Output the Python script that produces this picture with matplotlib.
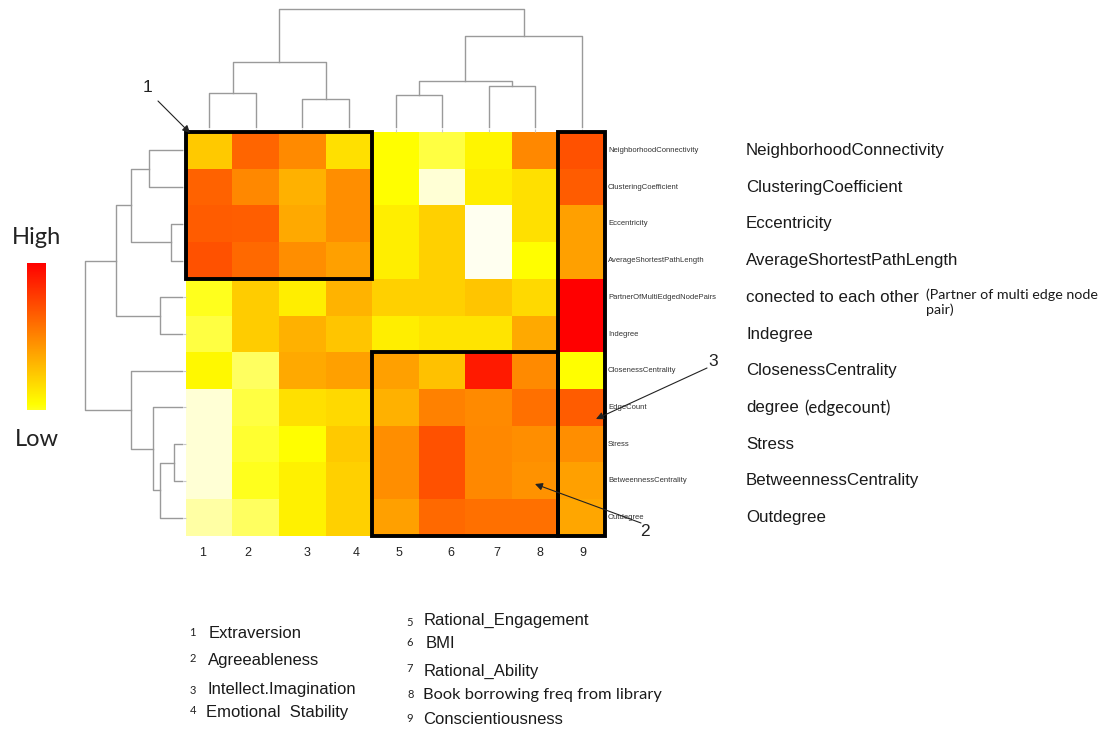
import matplotlib
matplotlib.use("Agg")
import matplotlib.pyplot as plt
import numpy as np
from matplotlib.colors import LinearSegmentedColormap
from matplotlib.patches import Rectangle, FancyArrowPatch
from matplotlib.transforms import blended_transform_factory

# heat values (0 = palest, 100 = red), rows top->bottom, columns 1..9
values = np.array([
    [41, 70, 59, 34, 25, 18, 28, 60, 76],
    [71, 60, 48, 58, 25, 3, 30, 34, 73],
    [73, 72, 50, 58, 30, 39, 0, 34, 53],
    [76, 69, 58, 53, 30, 39, 0, 25, 53],
    [22, 40, 30, 47, 39, 39, 42, 36, 100],
    [18, 40, 48, 42, 30, 33, 33, 50, 100],
    [27, 15, 50, 53, 53, 43, 92, 59, 25],
    [3, 18, 34, 36, 48, 62, 59, 67, 73],
    [3, 20, 25, 41, 58, 76, 60, 58, 58],
    [3, 22, 29, 39, 58, 76, 60, 57, 53],
    [8, 15, 29, 39, 53, 69, 67, 67, 51],
])

row_ids = ["NeighborhoodConnectivity", "ClusteringCoefficient", "Eccentricity",
           "AverageShortestPathLength", "PartnerOfMultiEdgedNodePairs", "Indegree",
           "ClosenessCentrality", "EdgeCount", "Stress", "BetweennessCentrality",
           "Outdegree"]
row_names = ["NeighborhoodConnectivity", "ClusteringCoefficient", "Eccentricity",
             "AverageShortestPathLength", "conected to each other", "Indegree",
             "ClosenessCentrality", "degree", "Stress", "BetweennessCentrality",
             "Outdegree"]
col_nums = ["1", "2", "3", "4", "5", "6", "7", "8", "9"]
col_names = ["Extraversion", "Agreeableness", "Intellect.Imagination",
             "Emotional  Stability", "Rational_Engagement", "BMI",
             "Rational_Ability", "Book borrowing freq from library",
             "Conscientiousness"]

# linkage: (left, right, height) ; leaves are 0..n-1, merge k gets id n+k
col_merges = [(0, 1, 0.284), (2, 3, 0.235), (9, 10, 0.547), (4, 5, 0.267),
              (6, 7, 0.346), (12, 13, 0.386), (14, 8, 0.771), (11, 15, 1.0)]
row_merges = [(0, 1, 0.334), (2, 3, 0.113), (11, 12, 0.526), (4, 5, 0.224),
              (13, 14, 0.677), (8, 9, 0.079), (16, 10, 0.224), (7, 17, 0.299),
              (6, 18, 0.526), (15, 19, 1.0)]

W, H = 1109, 731
ARIAL = "Liberation Sans"
CALIBRI = "Lato"


def fx(x):
    return x / W


def fy(y):
    return 1 - y / H


cmap = LinearSegmentedColormap.from_list(
    "heat", [(0.0, "#FFFFF0"), (0.25, "#FFFF00"), (1.0, "#FF0000")])

fig = plt.figure(figsize=(W / 100, H / 100), dpi=100)

# heatmap
ax = fig.add_axes([fx(186), fy(536), (605 - 186) / W, (536 - 132) / H])
ax.imshow(values, cmap=cmap, vmin=0, vmax=100, aspect="auto",
          interpolation="nearest")
for s in ax.spines.values():
    s.set_visible(False)
ax.set_xticks(range(values.shape[1]))
ax.set_yticks(range(values.shape[0]))
ax.tick_params(axis="x", top=True, bottom=False, labeltop=False,
               labelbottom=False, length=2, color="#c8c8c8")
ax.tick_params(axis="y", left=True, labelleft=False, length=2, color="#c8c8c8")

# black boxes
box_kw = dict(fill=False, edgecolor="black", lw=2.8, clip_on=False, zorder=5)
ax.add_patch(Rectangle((-0.5, -0.5), 4, 4, **box_kw))
ax.add_patch(Rectangle((3.5, 5.5), 4, 5, **box_kw))
ax.add_patch(Rectangle((7.5, -0.5), 1, 11, **box_kw))

# tiny row labels next to heatmap
trans = blended_transform_factory(fig.transFigure, ax.transData)
for i, lab in enumerate(row_ids):
    ax.text(fx(608), i, lab, transform=trans, fontsize=5.5, family=ARIAL,
            color="#333333", ha="left", va="center")

# large row labels on the right
for i, lab in enumerate(row_names):
    ax.text(fx(746), i, lab, transform=trans, fontsize=12.2, family=ARIAL,
            color="#1a1a1a", ha="left", va="center")
fig.text(fx(926), fy(288), "(Partner of multi edge node\npair)", fontsize=10.3,
         family=CALIBRI, color="#1a1a1a", ha="left", va="top", linespacing=1.3)
ax.text(fx(804), 7, "(edgecount)", transform=trans, fontsize=12,
        family=CALIBRI, color="#1a1a1a", ha="left", va="center")


def draw_dendro(dax, merges, n, vertical):
    pos = {i: float(i) for i in range(n)}
    hgt = {i: 0.0 for i in range(n)}
    for k, (a, b, h) in enumerate(merges):
        p = [pos[a], pos[a], pos[b], pos[b]]
        q = [hgt[a], h, h, hgt[b]]
        if vertical:
            dax.plot(p, q, color="#9a9a9a", lw=1.0, clip_on=False)
        else:
            dax.plot(q, p, color="#9a9a9a", lw=1.0, clip_on=False)
        pos[n + k] = (pos[a] + pos[b]) / 2
        hgt[n + k] = h


# top dendrogram
tax = fig.add_axes([fx(186), fy(127), (605 - 186) / W, (127 - 9) / H])
draw_dendro(tax, col_merges, values.shape[1], True)
tax.set_xlim(-0.5, values.shape[1] - 0.5)
tax.set_ylim(0, 1)
tax.axis("off")

# left dendrogram
lax = fig.add_axes([fx(84.7), fy(536), (181.7 - 84.7) / W, (536 - 132) / H])
draw_dendro(lax, row_merges, values.shape[0], False)
lax.set_xlim(1, 0)
lax.set_ylim(values.shape[0] - 0.5, -0.5)
lax.axis("off")

# High / Low colour bar
cax = fig.add_axes([fx(26.7), fy(410), (45 - 26.7) / W, (410 - 262.7) / H])
cax.imshow(np.linspace(100, 22, 256)[:, None], cmap=cmap, vmin=0, vmax=100,
           aspect="auto")
cax.axis("off")
fig.text(fx(36.5), fy(238), "High", fontsize=17, family=CALIBRI,
         color="#222222", ha="center", va="center")
fig.text(fx(36.5), fy(440), "Low", fontsize=17, family=CALIBRI,
         color="#222222", ha="center", va="center")

# column numbers under heatmap
col_num_x = [202.7, 248.3, 306.7, 355.7, 399, 450.7, 496.7, 540, 583.3]
for x, lab in zip(col_num_x, col_nums):
    fig.text(fx(x), fy(553), lab, fontsize=9, family=ARIAL, color="#222222",
             ha="center", va="center")

# annotations 1, 2, 3
notes = [("1", (148, 88), (158, 101), (190, 133)),
         ("2", (645, 531), (641, 523), (535, 484)),
         ("3", (713, 362), (707, 368), (596, 419))]
for lab, tpos, start, tip in notes:
    fig.text(fx(tpos[0]), fy(tpos[1]), lab, fontsize=12.5, family=ARIAL,
             color="#222222", ha="center", va="center")
    fig.add_artist(FancyArrowPatch((fx(start[0]), fy(start[1])),
                                   (fx(tip[0]), fy(tip[1])),
                                   transform=fig.transFigure, arrowstyle="-|>",
                                   mutation_scale=11, lw=0.8, color="#222222",
                                   shrinkA=0, shrinkB=0))

# bottom legend list
num_xy = [(192.7, 633), (192.5, 659), (192.7, 690), (192.7, 710),
          (410, 622), (410, 642), (410, 669), (410.7, 695), (410, 718)]
name_xy = [(209, 633), (207.7, 661), (207.3, 689.3), (206, 712.7),
           (424, 620), (425.3, 643.3), (424, 671), (422.7, 695), (423.3, 720)]
for i, (lab, name) in enumerate(zip(col_nums, col_names)):
    fig.text(fx(num_xy[i][0]), fy(num_xy[i][1]), lab, fontsize=8,
             family=CALIBRI, color="#222222", ha="center", va="center")
    fam = CALIBRI if i == 7 else ARIAL
    fs = 11.8 if i == 7 else 12
    fig.text(fx(name_xy[i][0]), fy(name_xy[i][1]), name, fontsize=fs,
             family=fam, color="#1a1a1a", ha="left", va="center")

fig.savefig("out.png", dpi=100)
